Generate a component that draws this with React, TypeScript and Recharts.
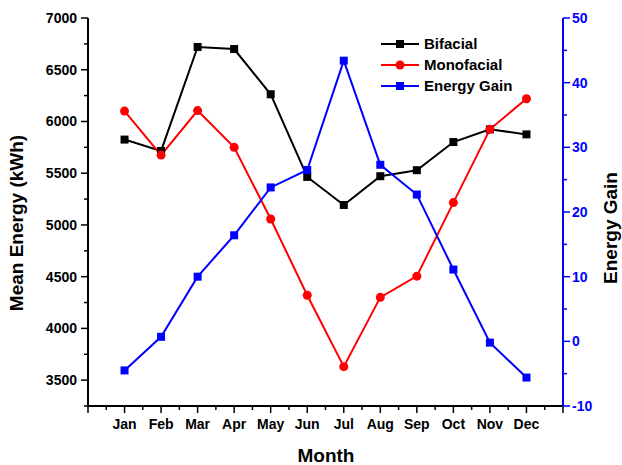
import { Line, LineChart, XAxis, YAxis } from 'recharts';

const months = ['Jan', 'Feb', 'Mar', 'Apr', 'May', 'Jun', 'Jul', 'Aug', 'Sep', 'Oct', 'Nov', 'Dec'];
const bifacial = [5825, 5715, 6720, 6700, 6263, 5464, 5193, 5471, 5529, 5801, 5924, 5875];
const monofacial = [6100, 5675, 6105, 5750, 5057, 4320, 3630, 4300, 4505, 5216, 5924, 6220];
const energyGain = [-4.5, 0.7, 10, 16.4, 23.8, 26.5, 43.4, 27.3, 22.7, 11.1, -0.2, -5.6];

const xTicks = [0, 0.5, 1, 1.5, 2, 2.5, 3, 3.5, 4, 4.5, 5, 5.5, 6, 6.5, 7, 7.5, 8, 8.5, 9, 9.5, 10, 10.5, 11, 11.5, 12, 12.5, 13];
const leftTicks = [3250, 3500, 3750, 4000, 4250, 4500, 4750, 5000, 5250, 5500, 5750, 6000, 6250, 6500, 6750, 7000];
const rightTicks = [-10, -5, 0, 5, 10, 15, 20, 25, 30, 35, 40, 45, 50];

const FONT = '"Liberation Sans", Arial, sans-serif';
const BLUE = '#0000ff';
const RED = '#ff0000';

const data = months.map((m, i) => ({
  x: i + 1,
  month: m,
  bifacial: bifacial[i],
  monofacial: monofacial[i],
  gain: energyGain[i],
}));

const series = [
  { name: 'Bifacial', color: '#000', shape: 'square' },
  { name: 'Monofacial', color: RED, shape: 'circle' },
  { name: 'Energy Gain', color: BLUE, shape: 'square' },
];

const BottomTick = (props: any) => {
  const { x, y, payload } = props;
  const v = payload.value as number;
  const major = Number.isInteger(v);
  const label = major && v >= 1 && v <= 12 ? months[v - 1] : '';
  return (
    <g>
      <line x1={x} x2={x} y1={y} y2={y + (major ? 7 : 4)} stroke="#000" strokeWidth={1.5} />
      {label && (
        <text x={x} y={y + 23} textAnchor="middle" fontFamily={FONT} fontWeight="bold" fontSize={14} fill="#000">
          {label}
        </text>
      )}
    </g>
  );
};

const TopTick = (props: any) => {
  const { x, y, payload } = props;
  const major = Number.isInteger(payload.value);
  return <line x1={x} x2={x} y1={y} y2={y + (major ? 7 : 4)} stroke="#000" strokeWidth={1.5} />;
};

const LeftTick = (props: any) => {
  const { x, y, payload } = props;
  const v = payload.value as number;
  const major = v % 500 === 0;
  return (
    <g>
      <line x1={x} x2={x - (major ? 7 : 4)} y1={y} y2={y} stroke="#000" strokeWidth={1.5} />
      {major && (
        <text x={x - 11} y={y} textAnchor="end" dominantBaseline="central" fontFamily={FONT} fontWeight="bold" fontSize={14} fill="#000">
          {v}
        </text>
      )}
    </g>
  );
};

const RightTick = (props: any) => {
  const { x, y, payload } = props;
  const v = payload.value as number;
  const major = v % 10 === 0;
  return (
    <g>
      <line x1={x} x2={x + (major ? 7 : 4)} y1={y} y2={y} stroke={BLUE} strokeWidth={1.5} />
      {major && (
        <text x={x + 9} y={y} textAnchor="start" dominantBaseline="central" fontFamily={FONT} fontWeight="bold" fontSize={14} fill={BLUE}>
          {v}
        </text>
      )}
    </g>
  );
};

const squareDot = (color: string) => (p: any) => (
  <rect key={`sq-${color}-${p.index}`} x={p.cx - 4} y={p.cy - 4} width={8} height={8} fill={color} />
);

const Legend = () => (
  <div style={{ position: 'absolute', left: 380, top: 33, fontFamily: FONT, fontWeight: 'bold', fontSize: 15 }}>
    {series.map((s) => (
      <div key={s.name} style={{ display: 'flex', alignItems: 'center', height: 21 }}>
        <svg width={40} height={12} style={{ marginRight: 4 }}>
          <line x1={1} x2={39} y1={6} y2={6} stroke={s.color} strokeWidth={2} />
          {s.shape === 'square' ? (
            <rect x={16} y={2} width={8} height={8} fill={s.color} />
          ) : (
            <circle cx={20} cy={6} r={4.5} fill={s.color} />
          )}
        </svg>
        <span>{s.name}</span>
      </div>
    ))}
  </div>
);

export default function App() {
  return (
    <div style={{ position: 'absolute', left: 0, top: 0, width: 622, height: 465, background: '#fff' }}>
      <LineChart width={622} height={465} data={data} margin={{ top: 18, right: 0, bottom: 0, left: 0 }}>
        <XAxis
          xAxisId="b"
          dataKey="x"
          type="number"
          domain={[0, 13]}
          ticks={xTicks}
          interval={0}
          height={59}
          tickSize={0}
          tickMargin={0}
          tickLine={false}
          tick={BottomTick}
          axisLine={{ stroke: '#000', strokeWidth: 2 }}
          label={{
            content: () => (
              <text x={326} y={462} textAnchor="middle" fontFamily={FONT} fontWeight="bold" fontSize={19} fill="#000">
                Month
              </text>
            ),
          }}
        />
        <XAxis
          xAxisId="t"
          orientation="top"
          dataKey="x"
          type="number"
          domain={[0, 13]}
          ticks={xTicks}
          interval={0}
          height={0}
          tickSize={0}
          tickMargin={0}
          tickLine={false}
          tick={TopTick}
          axisLine={{ stroke: '#000', strokeWidth: 2 }}
        />
        <YAxis
          yAxisId="left"
          domain={[3250, 7000]}
          ticks={leftTicks}
          interval={0}
          width={88}
          tickSize={0}
          tickMargin={0}
          tickLine={false}
          tick={LeftTick}
          axisLine={{ stroke: '#000', strokeWidth: 2 }}
          allowDataOverflow
          label={{
            content: () => (
              <text
                x={23}
                y={223}
                transform="rotate(-90 23 223)"
                textAnchor="middle"
                fontFamily={FONT}
                fontWeight="bold"
                fontSize={19}
                fill="#000"
              >
                Mean Energy (kWh)
              </text>
            ),
          }}
        />
        <YAxis
          yAxisId="right"
          orientation="right"
          domain={[-10, 50]}
          ticks={rightTicks}
          interval={0}
          width={59}
          tickSize={0}
          tickMargin={0}
          tickLine={false}
          tick={RightTick}
          axisLine={{ stroke: BLUE, strokeWidth: 2 }}
          allowDataOverflow
          label={{
            content: () => (
              <text
                x={617}
                y={228}
                transform="rotate(-90 617 228)"
                textAnchor="middle"
                fontFamily={FONT}
                fontWeight="bold"
                fontSize={19}
                fill="#000"
              >
                Energy Gain
              </text>
            ),
          }}
        />
        <Line
          xAxisId="b"
          yAxisId="left"
          dataKey="bifacial"
          stroke="#000"
          strokeWidth={2}
          dot={squareDot('#000')}
          activeDot={false}
          isAnimationActive={false}
        />
        <Line
          xAxisId="b"
          yAxisId="left"
          dataKey="monofacial"
          stroke={RED}
          strokeWidth={2}
          dot={{ r: 4.5, fill: RED, stroke: RED, strokeWidth: 0 }}
          activeDot={false}
          isAnimationActive={false}
        />
        <Line
          xAxisId="b"
          yAxisId="right"
          dataKey="gain"
          stroke={BLUE}
          strokeWidth={2}
          dot={squareDot(BLUE)}
          activeDot={false}
          isAnimationActive={false}
        />
      </LineChart>
      <Legend />
    </div>
  );
}
